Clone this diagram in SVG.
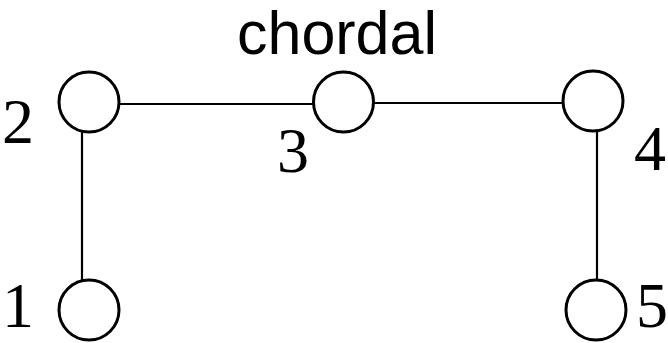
<svg xmlns="http://www.w3.org/2000/svg" width="668" height="343" viewBox="0 0 668 343">
<style>
.n{fill:#fff;stroke:#000;stroke-width:3}
.e{stroke:#000;stroke-width:2.2;fill:none}
.l{font-family:"Liberation Serif",serif;font-size:64px;fill:#000}
.t{font-family:"Liberation Sans",Arial,sans-serif;font-size:61px;fill:#000}
</style>
<rect width="668" height="343" fill="#fff"/>
<text class="t" x="337" y="54" text-anchor="middle">chordal</text>
<g id="edges">
<line class="e" x1="118" y1="104" x2="314" y2="104"/>
<line class="e" x1="373" y1="103" x2="565" y2="103"/>
<line class="e" x1="82" y1="130" x2="82" y2="280"/>
<line class="e" x1="597" y1="130" x2="597" y2="279"/>
</g>
<g id="n1"><circle class="n" cx="89" cy="310" r="30"/><text class="l" x="2" y="327">1</text></g>
<g id="n2"><circle class="n" cx="89" cy="102" r="30"/><text class="l" x="2" y="143">2</text></g>
<g id="n3"><circle class="n" cx="343.5" cy="102" r="30"/><text class="l" x="277" y="172">3</text></g>
<g id="n4"><circle class="n" cx="593" cy="101" r="30"/><text class="l" x="634" y="170">4</text></g>
<g id="n5"><circle class="n" cx="596" cy="310" r="30"/><text class="l" x="636" y="327">5</text></g>
</svg>
